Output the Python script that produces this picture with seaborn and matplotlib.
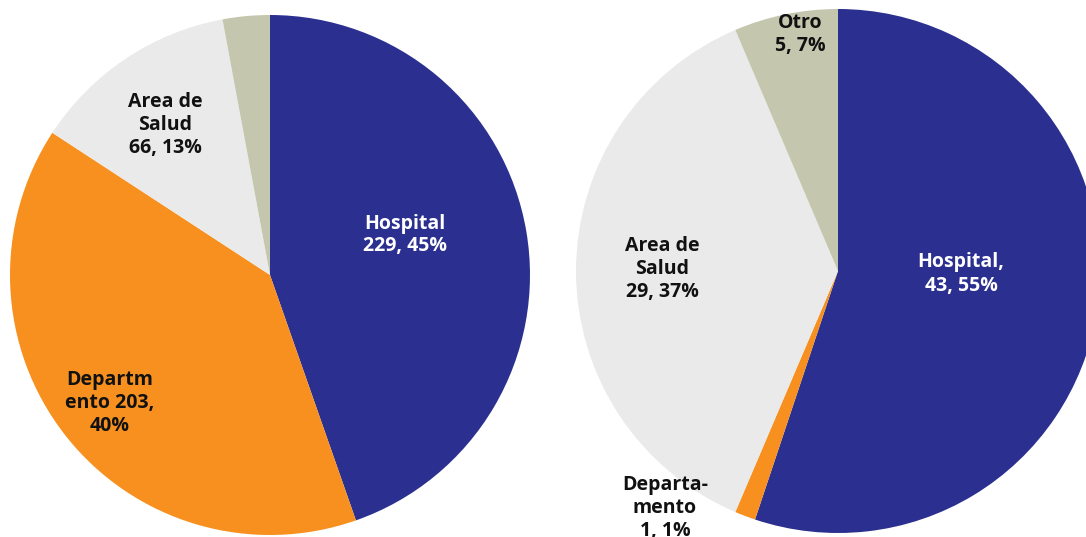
import matplotlib
matplotlib.use("Agg")
import matplotlib.pyplot as plt
import seaborn as sns

# Categories and counts for the two distributions
categories = ["Hospital", "Departamento", "Area de Salud", "Otro"]
left_counts = [229, 203, 66, 15]
right_counts = [43, 1, 29, 5]

# Slice labels as printed
left_labels = ["Hospital\n229, 45%", "Departm\nento 203,\n40%", "Area de\nSalud\n66, 13%", None]
right_labels = ["Hospital,\n43, 55%", "Departa-\nmento\n1, 1%", "Area de\nSalud\n29, 37%", "Otro\n5, 7%"]

colors = ["#2B3090", "#F7901E", "#EAEAEA", "#C4C7AD"]
text_colors = ["white", "#111111", "#111111", "#111111"]

sns.set_theme(style="white")
plt.rcParams["font.family"] = ["Open Sans", "DejaVu Sans"]

W, H = 1086, 537
fig = plt.figure(figsize=(W / 100, H / 100), dpi=100)
ax = fig.add_axes([0, 0, 1, 1])

# pie geometry in pixel units (y measured from the bottom)
left_center, left_r = (270, H - 275), 260
right_center, right_r = (838, H - 271), 262

for counts, center, r in [(left_counts, left_center, left_r),
                          (right_counts, right_center, right_r)]:
    ax.pie(counts, colors=colors, startangle=90, counterclock=False,
           center=center, radius=r, frame=True,
           wedgeprops=dict(linewidth=0))

ax.set_xlim(0, W)
ax.set_ylim(0, H)
ax.set_aspect("equal")
ax.axis("off")

left_pos = [(405, 235), (110, 403), (165, 125), None]
right_pos = [(961, 274), (665, 508), (662, 269), (800, 35)]

for labels, positions in [(left_labels, left_pos), (right_labels, right_pos)]:
    for lab, pos, tc in zip(labels, positions, text_colors):
        if lab is None:
            continue
        ax.text(pos[0], H - pos[1], lab, ha="center", va="center",
                color=tc, fontsize=14, fontweight="bold",
                linespacing=1.2)

fig.savefig("out.png", dpi=100)
